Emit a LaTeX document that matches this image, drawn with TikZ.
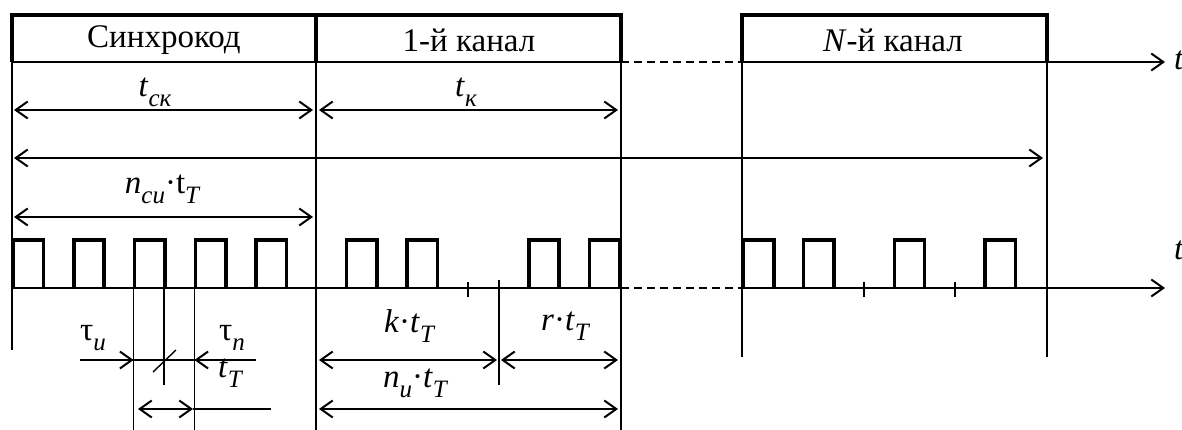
\documentclass[tikz,border=0pt]{standalone}
\usepackage{fontspec}
\setmainfont{Liberation Serif}
\usetikzlibrary{arrows.meta}
\newcommand{\lsub}[1]{\raisebox{-0.3em}{\fontsize{25}{25}\selectfont\itshape #1}}
\begin{document}
\begin{tikzpicture}[x=1pt,y=-1pt,
  thinline/.style={line width=1.4pt},
  pulse/.style={line width=3.5pt, line join=miter, line cap=butt},
  barb/.tip={Straight Barb[length=12pt,width=17pt,line width=2pt]},
  dim/.style={line width=1.8pt, barb-barb},
  dimr/.style={line width=1.8pt, -barb},
  axis/.style={line width=1.6pt, -{Straight Barb[length=12pt,width=17pt,line width=2pt]}},
  dashline/.style={line width=1.6pt, dash pattern=on 8pt off 5pt},
  lbl/.style={inner sep=0pt, font=\fontsize{33}{40}\selectfont},
  tick/.style={line width=1.4pt}
]
\useasboundingbox (0,0) rectangle (1182,430);
% key coordinates
\coordinate (A0) at (12,62);
\coordinate (A1) at (316,62);
\coordinate (A2) at (621,62);
\coordinate (A3) at (742,62);
\coordinate (A4) at (1047,62);
\coordinate (Aend) at (1165,62);
\coordinate (B0) at (12,288);
\coordinate (B2) at (621,288);
\coordinate (B3) at (742,288);
\coordinate (Bend) at (1165,288);

% ---- top row: frames
\draw[pulse] (12,62) -- (12,15) -- (621,15) -- (621,62);
\draw[pulse] (316,15) -- (316,62);
\draw[pulse] (742,62) -- (742,15) -- (1047,15) -- (1047,62);
\draw[line width=1.6pt] (A0) -- (A2);
\draw[dashline] (A2) -- (A3);
\draw[axis] (A3) -- (Aend);

\node[lbl] (sync) at (164,40) {Синхрокод};
\node[lbl] (ch1) at (469,40) {1-й канал};
\node[lbl] (chN) at (893,40) {\textit{N}-й канал};
\node[lbl] (t1) at (1179,60) {\textit{t}};

% ---- vertical reference lines
\draw[thinline] (A0) -- (12,350);
\draw[thinline] (A1) -- (316,432);
\draw[thinline] (A2) -- (621,432);
\draw[thinline] (A3) -- (742,357);
\draw[thinline] (A4) -- (1047,357);

% ---- dimension arrows (upper)
\draw[dim] (14,110) -- (313,110);
\draw[dim] (319,110) -- (618,110);
\node[lbl] (tsk) at (155,92) {\textit{t}\lsub{ск}};
\node[lbl] (tk) at (466,92) {\textit{t}\lsub{к}};
\draw[dim] (14,158) -- (1043,158);
\draw[dim] (14,217) -- (313,217);
\node[lbl] (ncu) at (162,189) {\textit{n}\lsub{си}·t\lsub{T}};

% ---- pulse train
\draw[line width=1.6pt] (B0) -- (B2);
\draw[dashline] (B2) -- (B3);
\draw[axis] (B3) -- (Bend);
\node[lbl] (t2) at (1179,250) {\textit{t}};

\foreach \s in {13,73.8,134.6,195.4,256.2, 346.4,407.2,528.8,589.6, 743.5,803.5,894.3,985.1}{
  \draw[pulse] (\s,288) -- (\s,240) -- (\s+30.4,240) -- (\s+30.4,288);
}
% ticks
\draw[tick] (468,282) -- (468,297);
\draw[tick] (864,282) -- (864,297);
\draw[tick] (955,282) -- (955,297);
\draw[thinline] (499,280) -- (499,385);

% ---- tau detail
\draw[thinline] (133.6,288) -- (133.6,432);
\draw[thinline] (164,288) -- (164,385);
\draw[thinline] (194.4,288) -- (194.4,432);
\draw[line width=1.5pt] (80,360) -- (256,360);
\draw[dimr] (80,360) -- (133.6,360);
\draw[dimr] (256,360) -- (194.4,360);
\draw[thinline] (153,372) -- (176,350);
\node[lbl] (tu) at (93,338) {τ\lsub{и}};
\node[lbl] (tn) at (232,338) {τ\lsub{п}};
\node[lbl] (tT) at (230,373) {\textit{t}\lsub{T}};
\draw[dim] (138,409) -- (193,409);
\draw[line width=1.8pt] (193,409) -- (271,409);

% ---- channel 1 detail
\draw[dim] (319,360) -- (497,360);
\draw[dim] (501,360) -- (618,360);
\draw[dim] (319,409) -- (618,409);
\node[lbl] (ktt) at (409,326) {\textit{k}·\textit{t}\lsub{T}};
\node[lbl] (rtt) at (565,326) {\textit{r}·\textit{t}\lsub{T}};
\node[lbl] (nutt) at (415,383) {\textit{n}\lsub{и}·\textit{t}\lsub{T}};
\end{tikzpicture}
\end{document}
